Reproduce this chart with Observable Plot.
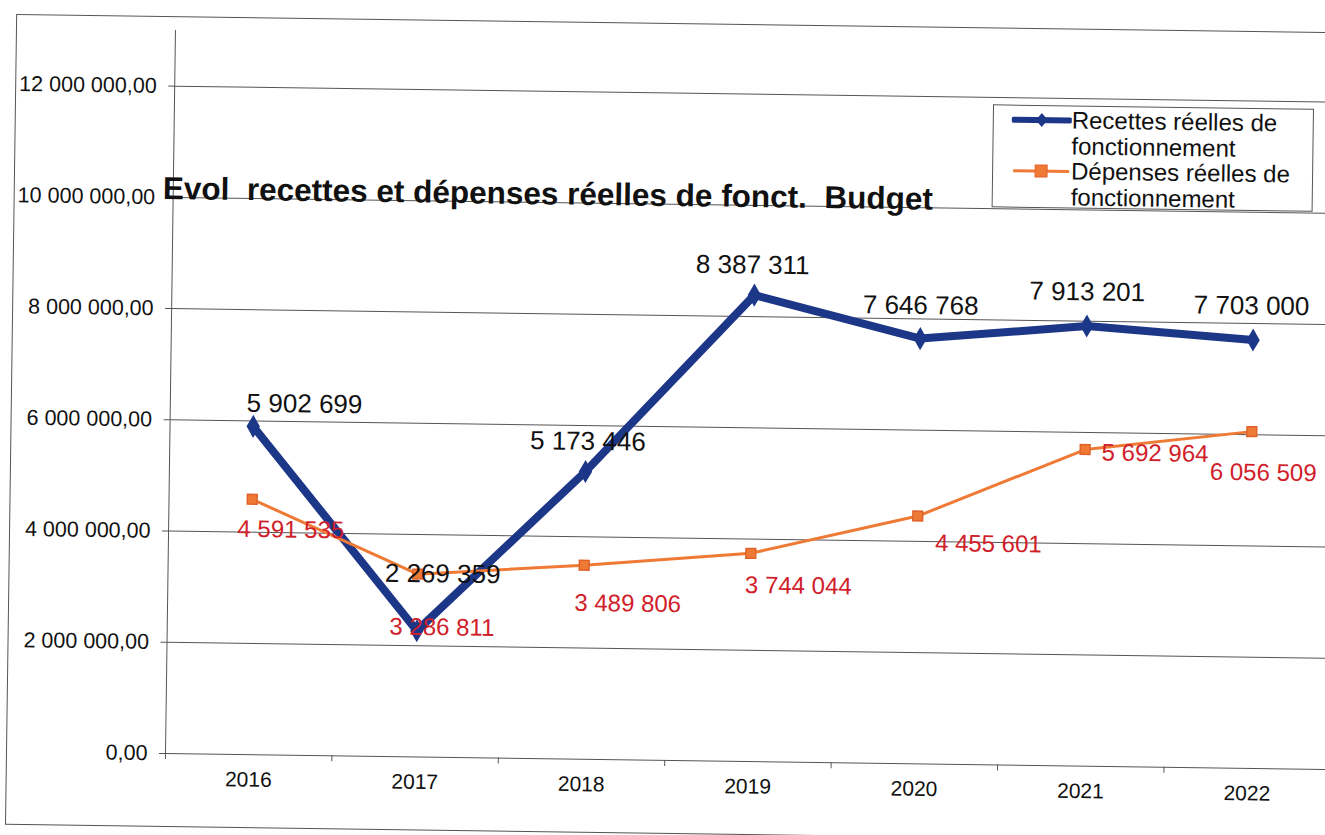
<!DOCTYPE html>
<html><head><meta charset="utf-8">
<script src="https://cdn.jsdelivr.net/npm/d3@7"></script>
<script src="https://cdn.jsdelivr.net/npm/@observablehq/plot@0.6"></script>
<style>
html,body{margin:0;padding:0;background:#fff;overflow:hidden;}
body{font-family:"Liberation Sans",Arial,sans-serif;}
#wrap{position:relative;width:1340px;height:835px;transform:rotate(0.79deg);transform-origin:165px 753px;}
#frame{position:absolute;left:6px;top:16px;width:1420px;height:811px;border:1.5px solid #555;box-sizing:border-box;}
#chart{position:absolute;left:0;top:0;}
#chart svg{overflow:visible;}
#title{position:absolute;left:155px;top:171px;font-weight:bold;font-size:31.5px;color:#111;white-space:pre;line-height:34px;}
#legend{position:absolute;left:984px;top:93px;width:321px;height:103px;border:1.5px solid #555;box-sizing:border-box;background:#fff;}
#legend .txt{position:absolute;left:78px;width:238px;font-size:24px;line-height:25.5px;color:#111;}
#legend svg{position:absolute;left:18px;}
</style></head>
<body>
<div id="wrap">
  <div id="frame"></div>
  <div id="chart"></div>
  <div id="title"></div>
  <div id="legend"></div>
</div>
<script>
const years = [2016, 2017, 2018, 2019, 2020, 2021, 2022];
const recettes = [5902699, 2269359, 5173446, 8387311, 7646768, 7913201, 7703000];
const depenses = [4591535, 3286811, 3489806, 3744044, 4455601, 5692964, 6056509];
const seriesNames = ["Recettes réelles de fonctionnement", "Dépenses réelles de fonctionnement"];
const yTicks = [0, 2000000, 4000000, 6000000, 8000000, 10000000, 12000000];
const titleText = "Evol  recettes et dépenses réelles de fonct.  Budget";

// label placement (pixel offsets from each point, as in the original chart)
const recLabelOffsets = [[51, -23], [25, -57], [2, -30], [-2, -30], [0, -33], [0, -34], [-2, -34]];
const depLabelOffsets = [[39, 30], [25, 53], [44, 38], [48, 32], [71, 27], [70, 3], [12, 41]];

const blue = "#1d3788";
const orange = "#ef7a36";
const red = "#d0202a";

const rec = years.map((y, i) => ({year: y, value: recettes[i]}));
const dep = years.map((y, i) => ({year: y, value: depenses[i]}));
const boundaries = [years[0] - 0.5, ...years.map(y => y + 0.5)];

const loc = d3.formatLocale({decimal: ",", thousands: " ", grouping: [3], currency: ["", ""]});
const fmtTick = loc.format(",.2f");
const fmtVal = loc.format(",d");

const recLabels = rec.map((d, i) => Plot.text([d], {x: "year", y: "value", text: d => fmtVal(d.value),
  dx: recLabelOffsets[i][0], dy: recLabelOffsets[i][1], fontSize: 26, fill: "#111"}));
const depLabels = dep.map((d, i) => Plot.text([d], {x: "year", y: "value", text: d => fmtVal(d.value),
  dx: depLabelOffsets[i][0], dy: depLabelOffsets[i][1], fontSize: 24, fill: red}));

const chart = Plot.plot({
  width: 1340, height: 835,
  marginLeft: 165, marginRight: 10, marginTop: 30, marginBottom: 82,
  style: {fontFamily: "'Liberation Sans', Arial, sans-serif", background: "transparent", color: "#111"},
  x: {type: "linear", domain: [years[0] - 0.5, years[years.length - 1] + 0.5]},
  y: {domain: [0, 13000000]},
  marks: [
    Plot.gridY(yTicks, {stroke: "#555", strokeOpacity: 1, strokeWidth: 1}),
    Plot.ruleX([years[0] - 0.5], {stroke: "#555", strokeWidth: 1}),
    Plot.axisY(yTicks, {tickFormat: fmtTick, tickSize: 6, tickPadding: 12, fontSize: 21.5, stroke: "#555", fill: "#111", label: null}),
    Plot.axisX(boundaries, {tickSize: 6, tickFormat: () => "", stroke: "#555", label: null}),
    Plot.axisX(years, {tickSize: 0, tickPadding: 17, tickFormat: d => String(d), fontSize: 21, fill: "#111", label: null}),
    Plot.line(rec, {x: "year", y: "value", stroke: blue, strokeWidth: 8, strokeLinejoin: "miter"}),
    Plot.dot(rec, {x: "year", y: "value", symbol: "diamond", r: 7, fill: blue}),
    Plot.line(dep, {x: "year", y: "value", stroke: orange, strokeWidth: 3}),
    Plot.dot(dep, {x: "year", y: "value", symbol: "square", r: 5.5, fill: orange, stroke: "#e0622a"}),
    ...recLabels,
    ...depLabels
  ]
});
document.getElementById("chart").appendChild(chart);
document.getElementById("title").textContent = titleText;

// legend
const legend = document.getElementById("legend");
const swatches = [
  `<svg width="60" height="14" style="top:7px"><line x1="2" y1="7" x2="58" y2="7" stroke="${blue}" stroke-width="6" stroke-linecap="round"/><path d="M30 0 L36 7 L30 14 L24 7 Z" fill="${blue}"/></svg>`,
  `<svg width="60" height="14" style="top:58px"><line x1="2" y1="7" x2="58" y2="7" stroke="${orange}" stroke-width="3"/><rect x="24" y="1" width="12" height="12" fill="${orange}" stroke="#e0622a"/></svg>`
];
legend.innerHTML = swatches.join("") +
  seriesNames.map((n, i) => `<div class="txt" style="top:${1 + i * 51}px">${n}</div>`).join("");
</script>
</body></html>
